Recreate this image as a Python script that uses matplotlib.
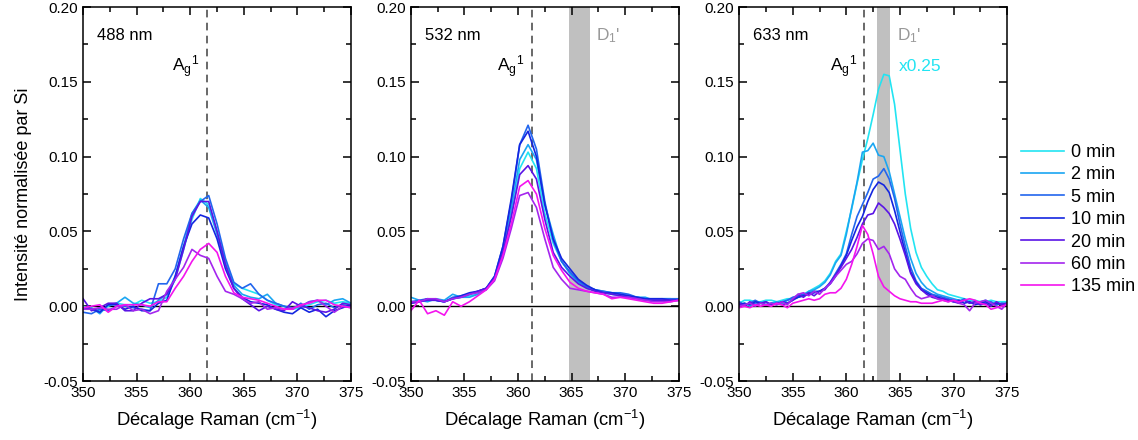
import numpy as np
import matplotlib
matplotlib.use('Agg')
import matplotlib.pyplot as plt
from matplotlib.ticker import MultipleLocator, FormatStrFormatter

plt.rcParams['font.family'] = ['Liberation Sans', 'DejaVu Sans']
plt.rcParams['mathtext.fontset'] = 'custom'
plt.rcParams['mathtext.rm'] = 'Liberation Sans'
plt.rcParams['mathtext.it'] = 'Liberation Sans'
plt.rcParams['axes.unicode_minus'] = False

# donnees
labels = ['0 min', '2 min', '5 min', '10 min', '20 min', '60 min', '135 min']
couleurs = ['#22e4f2', '#1aa6f2', '#2266ee', '#1426e0', '#5a14e6', '#a426ee', '#f414ee']

x_488 = np.linspace(350, 375, 33)
y_488 = [
    [0.000, -0.002, -0.003, 0.000, 0.002, 0.001, 0.001, 0.004, 0.002, 0.003, 0.006, 0.018, 0.038, 0.058, 0.072, 0.068, 0.050,
     0.030, 0.015, 0.012, 0.010, 0.008, 0.004, 0.001, 0.000, -0.002, -0.001, 0.001, 0.003, 0.004, 0.002, 0.003, 0.002],
    [-0.002, -0.001, -0.005, 0.001, 0.002, 0.006, 0.002, 0.001, -0.001, 0.004, 0.008, 0.020, 0.040, 0.062, 0.071, 0.066, 0.048,
     0.028, 0.014, 0.008, 0.006, 0.005, 0.008, 0.002, 0.000, -0.001, 0.000, 0.003, 0.004, 0.001, 0.004, 0.005, 0.002],
    [-0.004, -0.005, -0.002, -0.003, 0.000, 0.000, -0.001, -0.002, -0.003, 0.015, 0.015, 0.025, 0.045, 0.062, 0.070, 0.074, 0.055,
     0.032, 0.016, 0.012, 0.015, 0.008, 0.004, 0.002, 0.000, -0.002, 0.002, -0.002, 0.001, 0.002, -0.001, 0.001, 0.000],
    [-0.001, -0.002, -0.004, 0.001, 0.001, -0.002, 0.000, -0.003, -0.003, 0.002, 0.004, 0.020, 0.040, 0.055, 0.061, 0.059, 0.045,
     0.025, 0.012, 0.006, 0.003, 0.002, 0.001, -0.002, -0.004, -0.005, -0.001, -0.004, -0.002, -0.007, -0.003, -0.001, 0.001],
    [0.005, -0.003, -0.001, 0.002, 0.002, -0.003, -0.003, 0.002, 0.005, 0.005, 0.008, 0.018, 0.038, 0.060, 0.070, 0.070, 0.050,
     0.028, 0.012, 0.005, 0.001, -0.003, 0.000, -0.002, -0.003, 0.003, 0.000, -0.001, -0.003, -0.004, -0.002, 0.002, 0.001],
    [-0.002, -0.002, -0.001, -0.002, -0.002, 0.001, -0.003, -0.002, -0.005, -0.003, 0.010, 0.018, 0.026, 0.038, 0.034, 0.032, 0.020,
     0.010, 0.008, 0.005, 0.002, 0.003, -0.002, -0.001, -0.002, -0.001, 0.000, 0.003, 0.004, 0.000, -0.004, 0.000, -0.001],
    [-0.001, 0.000, 0.001, -0.004, 0.000, 0.001, 0.001, 0.001, 0.000, 0.003, 0.003, 0.012, 0.020, 0.030, 0.038, 0.042, 0.036,
     0.020, 0.009, 0.006, 0.005, 0.004, 0.002, 0.000, -0.002, -0.002, 0.001, 0.002, 0.004, 0.004, 0.001, 0.000, -0.001],
]

x_532 = np.linspace(350, 375, 33)
y_532 = [
    [0.003, 0.003, 0.004, 0.004, 0.003, 0.005, 0.006, 0.007, 0.008, 0.011, 0.019, 0.035, 0.060, 0.092, 0.103, 0.092, 0.062,
     0.042, 0.030, 0.022, 0.016, 0.012, 0.011, 0.009, 0.008, 0.007, 0.007, 0.006, 0.005, 0.004, 0.004, 0.004, 0.004],
    [0.006, 0.004, 0.003, 0.005, 0.004, 0.008, 0.006, 0.006, 0.008, 0.012, 0.019, 0.037, 0.065, 0.098, 0.108, 0.098, 0.068,
     0.048, 0.030, 0.022, 0.016, 0.013, 0.011, 0.010, 0.009, 0.008, 0.007, 0.006, 0.006, 0.004, 0.005, 0.005, 0.004],
    [0.003, 0.004, 0.005, 0.004, 0.003, 0.006, 0.007, 0.008, 0.010, 0.012, 0.020, 0.040, 0.070, 0.108, 0.121, 0.105, 0.070,
     0.044, 0.030, 0.023, 0.017, 0.013, 0.011, 0.010, 0.009, 0.009, 0.008, 0.006, 0.005, 0.005, 0.005, 0.005, 0.005],
    [0.002, 0.003, 0.005, 0.004, 0.003, 0.005, 0.007, 0.009, 0.010, 0.012, 0.020, 0.040, 0.072, 0.108, 0.117, 0.100, 0.068,
     0.045, 0.032, 0.025, 0.018, 0.014, 0.011, 0.009, 0.009, 0.008, 0.007, 0.006, 0.005, 0.005, 0.005, 0.004, 0.004],
    [0.002, 0.003, 0.004, 0.004, 0.003, 0.005, 0.006, 0.008, 0.010, 0.012, 0.019, 0.036, 0.060, 0.088, 0.094, 0.085, 0.058,
     0.036, 0.026, 0.020, 0.015, 0.012, 0.010, 0.009, 0.008, 0.007, 0.006, 0.005, 0.004, 0.004, 0.004, 0.004, 0.004],
    [0.003, 0.003, 0.005, 0.005, 0.003, 0.005, 0.006, 0.008, 0.009, 0.011, 0.017, 0.032, 0.052, 0.074, 0.076, 0.066, 0.045,
     0.026, 0.018, 0.012, 0.011, 0.010, 0.009, 0.008, 0.006, 0.006, 0.006, 0.005, 0.004, 0.003, 0.003, 0.003, 0.004],
    [-0.003, 0.004, -0.005, -0.003, -0.006, 0.003, 0.000, 0.003, 0.007, 0.011, 0.018, 0.034, 0.055, 0.080, 0.084, 0.075, 0.052,
     0.034, 0.024, 0.016, 0.012, 0.010, 0.009, 0.008, 0.005, 0.006, 0.005, 0.004, 0.003, 0.002, 0.002, 0.003, 0.004],
]

x_633 = np.linspace(350, 375, 51)
y_633 = [
    [0.002, 0.004, 0.004, 0.003, 0.003, 0.004, 0.004, 0.003, 0.004, 0.005,
     0.005, 0.006, 0.008, 0.010, 0.012, 0.014, 0.017, 0.022, 0.030, 0.035,
     0.050, 0.065, 0.082, 0.098, 0.112, 0.128, 0.145, 0.155, 0.154, 0.135,
     0.105, 0.075, 0.052, 0.036, 0.026, 0.020, 0.015, 0.011, 0.010, 0.008,
     0.007, 0.006, 0.005, 0.004, 0.004, 0.003, 0.003, 0.004, 0.003, 0.003, 0.003],
    [0.001, 0.002, 0.000, 0.002, 0.003, 0.001, 0.002, 0.003, 0.002, 0.004,
     0.005, 0.006, 0.007, 0.010, 0.011, 0.013, 0.016, 0.021, 0.029, 0.034,
     0.048, 0.066, 0.083, 0.103, 0.104, 0.109, 0.101, 0.100, 0.090, 0.075,
     0.060, 0.045, 0.032, 0.022, 0.016, 0.012, 0.010, 0.008, 0.007, 0.006,
     0.005, 0.004, 0.004, 0.003, 0.002, 0.003, 0.004, 0.002, 0.001, 0.002, 0.001],
    [0.003, 0.001, 0.002, 0.004, 0.002, 0.003, 0.001, 0.002, 0.003, 0.004,
     0.006, 0.007, 0.008, 0.009, 0.010, 0.010, 0.012, 0.016, 0.022, 0.028,
     0.035, 0.048, 0.060, 0.068, 0.076, 0.085, 0.087, 0.092, 0.085, 0.072,
     0.055, 0.040, 0.026, 0.017, 0.012, 0.010, 0.008, 0.007, 0.006, 0.005,
     0.004, 0.003, 0.005, 0.002, 0.003, 0.001, 0.002, 0.003, 0.001, 0.002, 0.002],
    [0.001, 0.002, 0.001, 0.003, 0.002, 0.001, 0.002, 0.001, 0.003, 0.002,
     0.004, 0.006, 0.007, 0.008, 0.009, 0.010, 0.012, 0.015, 0.020, 0.027,
     0.034, 0.044, 0.053, 0.060, 0.070, 0.078, 0.083, 0.081, 0.076, 0.064,
     0.050, 0.036, 0.023, 0.016, 0.011, 0.009, 0.007, 0.006, 0.005, 0.004,
     0.003, 0.004, 0.002, 0.003, 0.001, 0.002, 0.003, 0.001, 0.002, 0.001, 0.002],
    [0.002, 0.000, 0.003, 0.001, 0.002, 0.003, 0.001, 0.002, 0.001, 0.002,
     0.004, 0.008, 0.006, 0.009, 0.007, 0.010, 0.011, 0.016, 0.021, 0.026,
     0.032, 0.038, 0.046, 0.055, 0.061, 0.062, 0.069, 0.066, 0.062, 0.055,
     0.045, 0.034, 0.022, 0.015, 0.011, 0.008, 0.006, 0.005, 0.005, 0.004,
     0.003, 0.002, 0.004, 0.002, 0.003, 0.001, 0.002, 0.000, 0.003, 0.001, 0.002],
    [0.000, 0.001, 0.002, 0.000, 0.002, 0.001, 0.002, 0.001, 0.003, 0.001,
     0.005, 0.008, 0.009, 0.007, 0.010, 0.008, 0.012, 0.015, 0.020, 0.024,
     0.028, 0.030, 0.035, 0.042, 0.045, 0.044, 0.038, 0.040, 0.035, 0.025,
     0.020, 0.018, 0.012, 0.007, 0.005, 0.006, 0.007, 0.005, 0.004, 0.003,
     0.004, 0.002, 0.001, -0.003, 0.002, 0.003, 0.004, 0.002, 0.000, -0.002, 0.002],
    [-0.001, 0.000, -0.001, 0.001, 0.000, 0.001, 0.000, 0.002, 0.001, -0.001,
     0.002, 0.003, 0.004, 0.005, 0.004, 0.005, 0.008, 0.009, 0.009, 0.012,
     0.018, 0.028, 0.040, 0.054, 0.048, 0.035, 0.020, 0.013, 0.010, 0.007,
     0.005, 0.004, 0.003, 0.003, 0.002, 0.002, 0.002, 0.003, 0.004, 0.003,
     0.004, 0.003, 0.004, 0.005, 0.004, 0.002, 0.001, -0.002, -0.001, 0.000, 0.001],
]

lasers = ['488 nm', '532 nm', '633 nm']
pos_ag = [361.54, 361.31, 361.68]
bandes_d1 = [None, (364.72, 366.73), (362.89, 364.03)]
pos_d1 = [None, 367.3, 364.7]

fig = plt.figure(figsize=(11.38, 4.4), dpi=100)
gauches = [0.073, 0.361, 0.6495]
axes = [fig.add_axes([g, 0.134, 0.2355, 0.850]) for g in gauches]

donnees = [(x_488, y_488), (x_532, y_532), (x_633, y_633)]

for k, ax in enumerate(axes):
    xs, ys = donnees[k]
    if bandes_d1[k] is not None:
        ax.axvspan(bandes_d1[k][0], bandes_d1[k][1], color='#c0c0c0', lw=0, zorder=0)
        ax.text(pos_d1[k], 0.181, "D$_1$'", color='#999999', fontsize=12.5, va='center', ha='left')
    ax.axvline(pos_ag[k], color='#404040', ls=(0, (5, 3.5)), lw=1.1, zorder=1)
    ax.axhline(0, color='black', lw=1.0, zorder=1)
    for i in range(len(labels)):
        ax.plot(xs, ys[i], color=couleurs[i], lw=1.2, label=labels[i], zorder=2)
    ax.text(351.3, 0.181, lasers[k], fontsize=12, va='center', ha='left')
    ax.text(pos_ag[k] - 0.7, 0.160, 'A$_g$$^1$', fontsize=12.5, va='center', ha='right')

    ax.set_xlim(350, 375)
    ax.set_ylim(-0.05, 0.20)
    ax.xaxis.set_major_locator(MultipleLocator(5))
    ax.xaxis.set_minor_locator(MultipleLocator(2.5))
    ax.yaxis.set_major_locator(MultipleLocator(0.05))
    ax.yaxis.set_minor_locator(MultipleLocator(0.025))
    ax.yaxis.set_major_formatter(FormatStrFormatter('%.2f'))
    ax.tick_params(which='both', direction='in', top=True, right=True, labelsize=11, width=1.1)
    ax.tick_params(which='major', length=6)
    ax.tick_params(which='minor', length=3.5)
    for s in ax.spines.values():
        s.set_linewidth(1.1)
    ax.set_xlabel('Décalage Raman (cm$^{-1}$)', fontsize=13.3, labelpad=6)

axes[2].text(364.9, 0.160, 'x0.25', color=couleurs[0], fontsize=12.5, va='center', ha='left')
axes[0].set_ylabel('Intensité normalisée par Si', fontsize=13, labelpad=8)

h, l = axes[2].get_legend_handles_labels()
fig.legend(h, l, loc='upper left', bbox_to_anchor=(0.883, 0.71), frameon=False,
           fontsize=13, handlelength=2.4, handletextpad=0.35, labelspacing=0.3)

fig.savefig('out.png', dpi=100)
